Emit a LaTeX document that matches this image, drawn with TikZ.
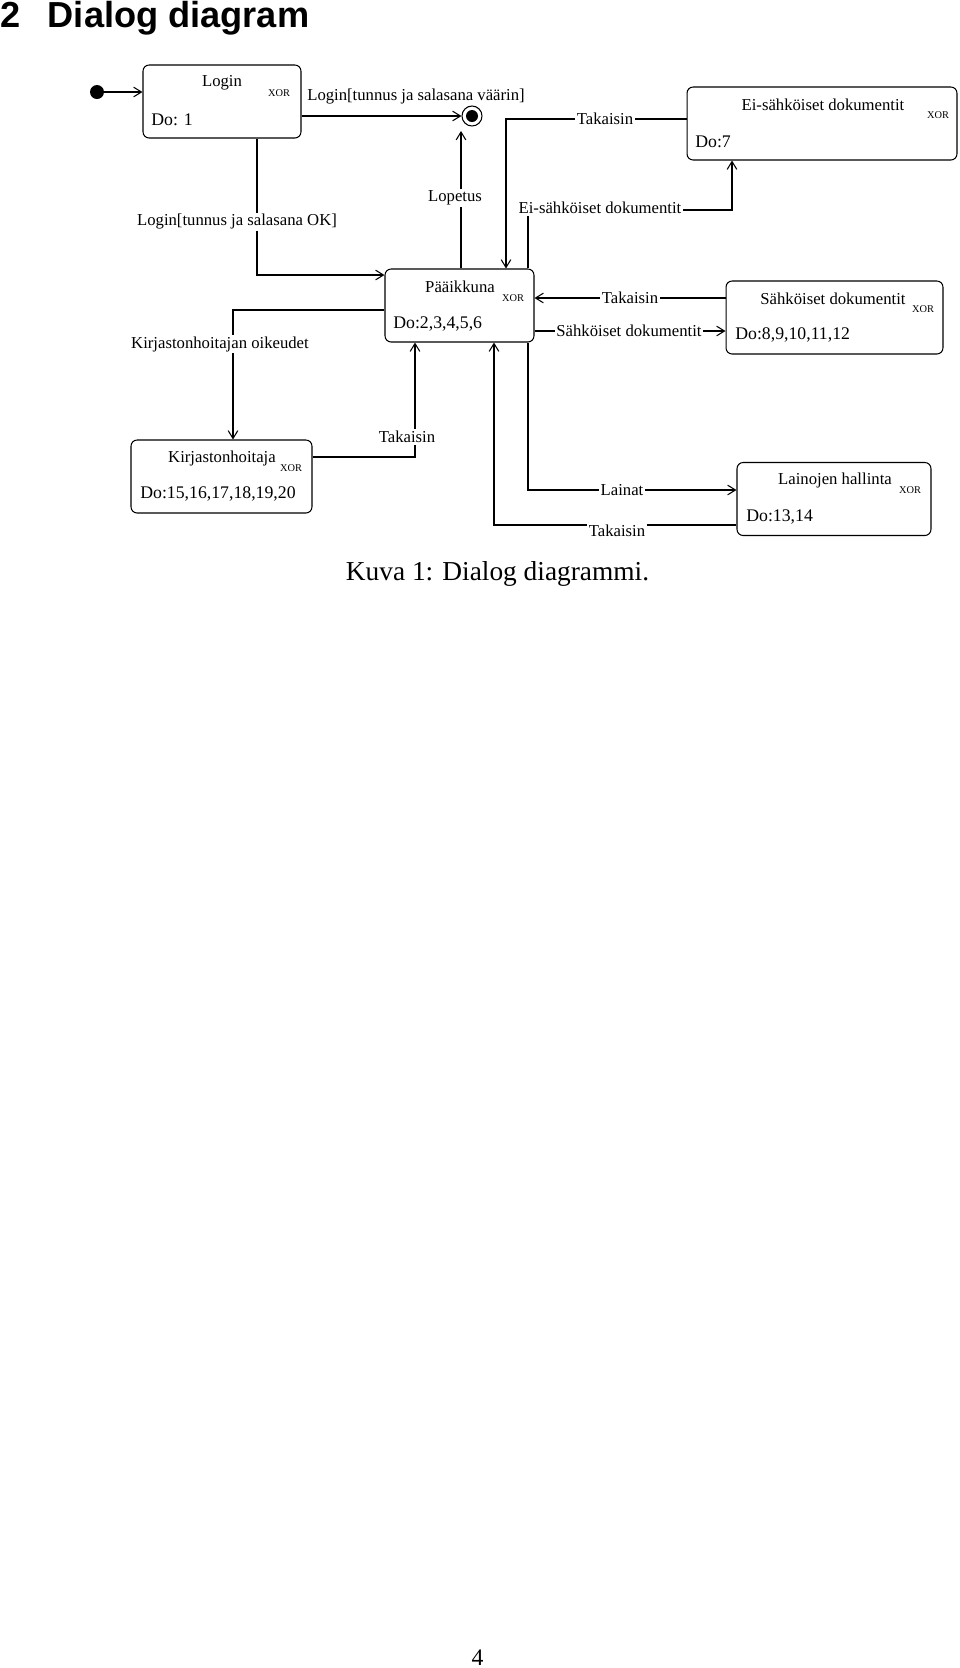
\documentclass[tikz,border=0pt]{standalone}
\usepackage{fontspec}
\setmainfont{Liberation Serif}
\newfontfamily\headfont{Liberation Sans}
\usetikzlibrary{arrows.meta}

\tikzset{
  state/.style={draw,rounded corners=3.5pt,line width=0.6pt,minimum height=1.46cm,inner sep=0pt},
  stname/.style={font=\fontsize{9.5}{11}\selectfont,inner sep=0pt},
  stdo/.style={font=\fontsize{10.1}{12}\selectfont,inner sep=0pt,anchor=west},
  xor/.style={font=\fontsize{5.9}{7}\selectfont,inner sep=0pt},
  trans/.style={draw,line width=0.6pt,->},
  tlabel/.style={font=\fontsize{9.5}{11}\selectfont,fill=white,inner sep=1pt},
}

\begin{document}
\begin{tikzpicture}[x=0.02cm,y=-0.02cm,>={Straight Barb[length=4.5pt,width=5.5pt]}]
  \useasboundingbox (0,0) rectangle (960,1668);

  % heading
  \node[font=\headfont\bfseries\fontsize{20.6}{24}\selectfont,anchor=base west,inner sep=0pt] (secnum) at (0.5,27) {2};
  \node[font=\headfont\bfseries\fontsize{20.6}{24}\selectfont,anchor=base west,inner sep=0pt] (sectitle) at (47.5,27) {Dialog diagram};

  % states
  \node[state,minimum width=3.16cm] (login) at (222,101.5) {};
  \node[stname] (loginname) at (222,83) {Login};
  \node[xor] (loginxor) at (279,93) {XOR};
  \node[stdo] (logindo) at (151,120) {Do: 1};

  \node[state,minimum width=5.4cm] (eisahk) at (822,123.5) {};
  \node[stname] (eisahkname) at (823,105) {Ei-sähköiset dokumentit};
  \node[xor] (eisahkxor) at (938,115) {XOR};
  \node[stdo] (eisahkdo) at (695,142) {Do:7};

  \node[state,minimum width=2.98cm] (paa) at (459.5,305.5) {};
  \node[stname] (paaname) at (460,287) {Pääikkuna};
  \node[xor] (paaxor) at (513,298) {XOR};
  \node[stdo] (paado) at (393,324) {Do:2,3,4,5,6};

  \node[state,minimum width=4.34cm] (sahk) at (834.5,317.5) {};
  \node[stname] (sahkname) at (833,299) {Sähköiset dokumentit};
  \node[xor] (sahkxor) at (923,309) {XOR};
  \node[stdo] (sahkdo) at (735,335) {Do:8,9,10,11,12};

  \node[state,minimum width=3.62cm] (kirj) at (221.5,476.5) {};
  \node[stname] (kirjname) at (222,458) {Kirjastonhoitaja};
  \node[xor] (kirjxor) at (291,468) {XOR};
  \node[stdo] (kirjdo) at (140,494) {Do:15,16,17,18,19,20};

  \node[state,minimum width=3.88cm] (laina) at (834,499) {};
  \node[stname] (lainaname) at (835,480) {Lainojen hallinta};
  \node[xor] (lainaxor) at (910,490) {XOR};
  \node[stdo] (lainado) at (746,517) {Do:13,14};

  % start and end
  \node[circle,fill,minimum size=0.28cm,inner sep=0pt] (start) at (97,92) {};
  \node[circle,draw,line width=0.6pt,minimum size=0.4cm,inner sep=0pt] (stop) at (472,116) {};
  \fill (stop.center) circle[radius=0.12cm];

  % bend points
  \coordinate (ok) at (257,275);
  \coordinate (lop) at (461,131);
  \coordinate (tk1) at (506,119);
  \coordinate (eidown) at (528,210);
  \coordinate (eiup) at (732,210);
  \coordinate (tk2) at (630,298);
  \coordinate (sd) at (629,331);
  \coordinate (ko) at (233,310);
  \coordinate (tk3) at (415,457);
  \coordinate (ln) at (528,490);
  \coordinate (tk4) at (494,525);

  % transitions
  \draw[trans] (start) -- (start -| login.west);
  \draw[trans] (login.east |- stop) -- (stop);
  \node[font=\fontsize{9.5}{11}\selectfont,inner sep=0pt] (wrong) at (416,97) {Login[tunnus ja salasana väärin]};

  \draw[trans] (login.south -| ok) |- (paa.west |- ok);
  \node[tlabel] (oklabel) at (237,222) {Login[tunnus ja salasana OK]};

  \draw[trans] (paa.north -| lop) -- (lop);
  \node[tlabel] (loplabel) at (455,198) {Lopetus};

  \draw[trans] (eisahk.west |- tk1) -| (paa.north -| tk1);
  \node[tlabel] (tk1label) at (605,119) {Takaisin};

  \draw[trans] (paa.north -| eidown) |- (eiup) -- (eisahk.south -| eiup);
  \node[tlabel] (eilabel) at (600,208) {Ei-sähköiset dokumentit};

  \draw[trans] (sahk.west |- tk2) -- (paa.east |- tk2);
  \node[tlabel] (tk2label) at (tk2) {Takaisin};

  \draw[trans] (paa.east |- sd) -- (sahk.west |- sd);
  \node[tlabel] (sdlabel) at (sd) {Sähköiset dokumentit};

  \draw[trans] (paa.west |- ko) -| (kirj.north -| ko);
  \node[tlabel] (kolabel) at (220,344) {Kirjastonhoitajan oikeudet};

  \draw[trans] (kirj.east |- tk3) -| (paa.south -| tk3);
  \node[tlabel] (tk3label) at (407,437) {Takaisin};

  \draw[trans] (paa.south -| ln) |- (laina.west |- ln);
  \node[tlabel] (lnlabel) at (622,490) {Lainat};

  \draw[trans] (laina.west |- tk4) -| (paa.south -| tk4);
  \node[tlabel] (tk4label) at (617,531) {Takaisin};

  % caption and page number
  \node[font=\fontsize{15.57}{18}\selectfont,anchor=base,inner sep=0pt] (caption) at (497.5,580) {Kuva 1: Dialog diagrammi.};
  \node[font=\fontsize{13.5}{16}\selectfont,anchor=base,inner sep=0pt] (pagenum) at (477.5,1665) {4};
\end{tikzpicture}
\end{document}
